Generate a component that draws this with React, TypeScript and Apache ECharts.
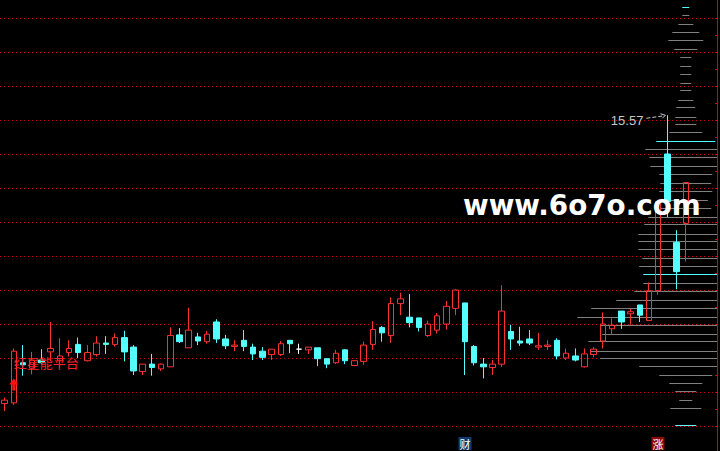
import React, { useEffect, useRef } from "react";
import * as echarts from "echarts";

// [open, close, low, high]
const candles: number[][] = [
  [11.33, 11.38, 11.22, 11.42],
  [11.34, 12.10, 11.31, 12.14],
  [11.93, 11.90, 11.74, 12.19],
  [11.85, 11.97, 11.76, 12.09],
  [11.97, 11.93, 11.90, 12.13],
  [12.09, 12.14, 11.95, 12.53],
  [11.96, 12.03, 11.85, 12.29],
  [12.08, 12.14, 12.02, 12.26],
  [12.20, 12.08, 12.00, 12.30],
  [11.96, 12.08, 11.95, 12.19],
  [12.05, 12.22, 12.02, 12.32],
  [12.22, 12.20, 12.06, 12.32],
  [12.20, 12.30, 12.17, 12.36],
  [12.30, 12.09, 11.95, 12.40],
  [12.16, 11.81, 11.75, 12.19],
  [11.80, 11.91, 11.75, 11.91],
  [11.91, 11.86, 11.74, 12.06],
  [11.84, 11.91, 11.81, 11.92],
  [11.87, 12.33, 11.87, 12.45],
  [12.34, 12.24, 12.22, 12.44],
  [12.15, 12.41, 12.15, 12.74],
  [12.31, 12.25, 12.19, 12.37],
  [12.24, 12.35, 12.21, 12.40],
  [12.53, 12.28, 12.22, 12.57],
  [12.28, 12.18, 12.13, 12.34],
  [12.17, 12.19, 12.10, 12.26],
  [12.26, 12.17, 12.10, 12.41],
  [12.16, 12.06, 11.97, 12.21],
  [12.10, 12.01, 11.97, 12.16],
  [12.05, 12.13, 11.97, 12.13],
  [12.05, 12.21, 12.03, 12.25],
  [12.26, 12.21, 12.07, 12.26],
  [12.13, 12.13, 12.06, 12.21],
  [12.12, 12.16, 12.06, 12.16],
  [12.15, 11.99, 11.88, 12.15],
  [11.99, 11.91, 11.85, 11.99],
  [11.93, 12.07, 11.91, 12.12],
  [12.12, 11.96, 11.91, 12.13],
  [11.89, 11.96, 11.89, 11.97],
  [11.95, 12.19, 11.90, 12.24],
  [12.20, 12.42, 12.12, 12.54],
  [12.45, 12.37, 12.24, 12.47],
  [12.33, 12.80, 12.22, 12.89],
  [12.80, 12.87, 12.63, 12.96],
  [12.60, 12.52, 12.45, 12.94],
  [12.59, 12.45, 12.39, 12.59],
  [12.33, 12.50, 12.31, 12.55],
  [12.41, 12.62, 12.36, 12.66],
  [12.50, 12.76, 12.42, 12.84],
  [12.73, 13.00, 12.63, 13.01],
  [12.81, 12.24, 11.75, 12.81],
  [12.17, 11.93, 11.89, 12.19],
  [11.91, 11.87, 11.70, 12.00],
  [11.86, 11.91, 11.75, 11.97],
  [11.91, 12.69, 11.87, 13.07],
  [12.39, 12.28, 12.12, 12.49],
  [12.25, 12.22, 12.18, 12.46],
  [12.28, 12.22, 12.19, 12.41],
  [12.16, 12.18, 12.12, 12.37],
  [12.17, 12.19, 12.12, 12.26],
  [12.26, 12.03, 11.98, 12.29],
  [12.00, 12.07, 11.97, 12.14],
  [12.03, 11.97, 11.95, 12.14],
  [11.87, 12.06, 11.86, 12.14],
  [12.05, 12.13, 12.01, 12.16],
  [12.25, 12.50, 12.14, 12.67],
  [12.43, 12.48, 12.34, 12.58],
  [12.69, 12.53, 12.43, 12.69],
  [12.65, 12.68, 12.49, 12.72],
  [12.78, 12.63, 12.53, 12.78],
  [12.55, 12.99, 12.55, 13.11],
  [12.99, 14.30, 12.93, 14.30],
  [15.00, 14.30, 14.07, 15.57],
  [13.70, 13.27, 13.01, 13.88],
  [13.98, 14.58, 13.42, 14.58],
];

// chip distribution (price level, amount)
const chipPrices = [
  17.16, 17.04, 16.91, 16.79, 16.67, 16.54, 16.42, 16.30, 16.17, 16.05,
  15.94, 15.80, 15.69, 15.55, 15.44, 15.32, 15.19, 15.07, 14.95, 14.82,
  14.70, 14.58, 14.45, 14.33, 14.20, 14.08, 13.97, 13.83, 13.72, 13.60,
  13.47, 13.35, 13.23, 13.10, 12.98, 12.85, 12.73, 12.61, 12.48, 12.36,
  12.25, 12.11, 12.00, 11.88, 11.75, 11.63, 11.51, 11.38, 11.26, 11.14,
  11.01,
];
const chipAmounts = [
  3.5, 3.5, 7.5, 13.5, 17.5, 11.5, 5.5, 5.5, 5.5, 5.5,
  5.5, 7.5, 9.5, 10.5, 10.5, 16.5, 29.5, 40.5, 36.5, 35.5,
  26.5, 25.5, 26.5, 22, 25.5, 37.5, 41.5, 47.5, 47.5, 47.5,
  43.5, 46.5, 42.5, 42.5, 51.5, 69.5, 94.5, 108.5, 85.5, 83.5,
  97.5, 95.5, 85.5, 46.5, 26.5, 16.5, 10.5, 6.5, 15.5, 0,
  10.5,
];
const chipHighlights = [17.16, 15.19, 13.23, 11.01];

const yTicks = { min: 11, max: 17, step: 0.5 };
const emptySlots = 3;

const eventIndex = [50, 71];
const eventText = ["财", "涨"];
const eventColor = ["#0f3c6c", "#8c0c0c"];

const signalIndex = 1;
const signalPrice = 11.7;
const signalLabel = "红星能平台";
const signalLabelPrice = 11.93;

const RED = "#ff3232";
const CYAN = "#54ffff";
const GRID_RED = "#c80000";
const AXIS_RED = "#e00000";
const CHIP_GREY = "#808080";
const CHIP_PX = 1;
const GRID = { left: 0, right: 2, top: 18, bottom: 25 };

export default function App() {
  const ref = useRef<HTMLDivElement>(null);

  useEffect(() => {
    const el = ref.current;
    if (!el) return;
    const chart = echarts.init(el, null, { renderer: "svg" });
    const total = candles.length + emptySlots;
    const categories = Array.from({ length: total }, (_, i) => `K${i + 1}`);
    const lastIdx = candles.length - 1;
    const chipData = chipPrices.map((p, i) => [
      lastIdx,
      p,
      chipAmounts[i],
      chipHighlights.includes(p) ? 1 : 0,
    ]);

    chart.setOption({
      animation: false,
      backgroundColor: "#000000",
      grid: { ...GRID, containLabel: false },
      xAxis: {
        type: "category",
        data: categories,
        boundaryGap: true,
        show: false,
      },
      yAxis: {
        type: "value",
        position: "right",
        min: yTicks.min,
        max: yTicks.max,
        interval: yTicks.step,
        axisLabel: { show: false },
        axisLine: { show: false },
        axisTick: { show: true, inside: true, length: 3, lineStyle: { color: AXIS_RED } },
        minorTick: { show: true, splitNumber: 2, length: 3, lineStyle: { color: AXIS_RED } },
        splitLine: {
          show: true,
          lineStyle: { color: GRID_RED, type: [1, 3], width: 1 },
        },
      },
      series: [
        {
          type: "custom",
          name: "chips",
          clip: false,
          z: 1,
          encode: { x: 0, y: 1 },
          data: chipData,
          renderItem: (params: any, api: any) => {
            const amt = api.value(2);
            if (!amt) return null;
            const c = api.coord([api.value(0), api.value(1)]);
            const cs = params.coordSys;
            const right = cs.x + cs.width;
            const x1 = c[0] - amt * CHIP_PX;
            const x2 = Math.min(c[0] + amt * CHIP_PX, right);
            const y = Math.round(c[1]) + 0.5;
            return {
              type: "line",
              shape: { x1, y1: y, x2, y2: y },
              style: { stroke: api.value(3) ? CYAN : CHIP_GREY, lineWidth: 1 },
            };
          },
        },
        {
          type: "candlestick",
          name: "K",
          z: 3,
          barWidth: 6,
          data: candles,
          itemStyle: {
            color: "rgba(0,0,0,0)",
            color0: CYAN,
            borderColor: RED,
            borderColor0: CYAN,
            borderColorDoji: "#ffffff",
            borderWidth: 1,
          },
        },
      ],
    });

    const toPx = (i: number, v: number) =>
      chart.convertToPixel({ gridIndex: 0 }, [i, v]) as number[];
    const W = chart.getWidth();
    const H = chart.getHeight();
    const axisX = W - GRID.right - 0.5;

    let hiIdx = 0;
    candles.forEach((c, i) => {
      if (c[3] > candles[hiIdx][3]) hiIdx = i;
    });
    const hiVal = candles[hiIdx][3];
    const [hx, hy] = toPx(hiIdx, hiVal);

    const graphics: any[] = [];
    graphics.push({
      type: "line",
      shape: { x1: axisX, y1: 0, x2: axisX, y2: H },
      style: { stroke: AXIS_RED, lineWidth: 1 },
      z: 10,
    });
    graphics.push({
      type: "text",
      x: hx - 24,
      y: hy + 5,
      style: {
        text: hiVal.toFixed(2),
        fill: "#c8c8c8",
        font: "13px 'Liberation Sans', Arial, sans-serif",
        align: "right",
        verticalAlign: "middle",
      },
      z: 10,
    });
    graphics.push({
      type: "line",
      shape: { x1: hx - 21, y1: hy + 3, x2: hx - 3, y2: hy + 0.5 },
      style: { stroke: "#c8c8c8", lineWidth: 1, lineDash: [4, 2] },
      z: 10,
    });
    graphics.push({
      type: "polyline",
      shape: { points: [[hx - 7, hy - 1.5], [hx - 2, hy], [hx - 5, hy + 3]] },
      style: { stroke: "#c8c8c8", lineWidth: 1, fill: "none" },
      z: 10,
    });

    // watermark
    graphics.push({
      type: "text",
      x: 463,
      y: 205,
      style: {
        text: "www.6o7o.com",
        fill: "#ffffff",
        font: "bold 27.8px 'DejaVu Sans', sans-serif",
        align: "left",
        verticalAlign: "middle",
      },
      z: 20,
    });

    // signal arrow + label
    const [sx, sy] = toPx(signalIndex, signalPrice);
    graphics.push({
      type: "polygon",
      shape: {
        points: [
          [sx, sy],
          [sx + 4.5, sy + 6],
          [sx + 1.5, sy + 6],
          [sx + 1.5, sy + 12],
          [sx - 1.5, sy + 12],
          [sx - 1.5, sy + 6],
          [sx - 4.5, sy + 6],
        ],
      },
      style: { fill: "#ff1010" },
      z: 12,
    });
    const [lx, ly] = toPx(signalIndex, signalLabelPrice);
    graphics.push({
      type: "text",
      x: lx,
      y: ly,
      style: {
        text: signalLabel,
        fill: "#ff2020",
        font: "13px 'Noto Sans CJK SC', sans-serif",
        align: "left",
        verticalAlign: "middle",
      },
      z: 12,
    });

    // event markers
    eventIndex.forEach((idx, k) => {
      const [ex] = toPx(idx, yTicks.min);
      graphics.push({
        type: "rect",
        shape: { x: Math.round(ex) - 6.5, y: 437, width: 13, height: 13 },
        style: { fill: eventColor[k] },
        z: 12,
      });
      graphics.push({
        type: "text",
        x: Math.round(ex),
        y: 443.5,
        style: {
          text: eventText[k],
          fill: "#ffffff",
          font: "11px 'Noto Sans CJK SC', sans-serif",
          align: "center",
          verticalAlign: "middle",
        },
        z: 13,
      });
    });

    chart.setOption({ graphic: graphics });

    return () => chart.dispose();
  }, []);

  return (
    <div
      ref={ref}
      style={{ position: "fixed", left: 0, top: 0, width: 720, height: 451, background: "#000" }}
    />
  );
}
